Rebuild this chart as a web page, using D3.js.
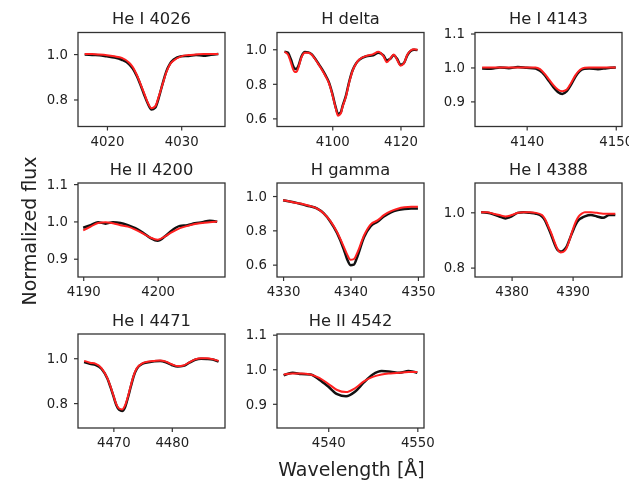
<!DOCTYPE html>
<html>
<head>
<meta charset="utf-8">
<script src="https://cdn.jsdelivr.net/npm/d3@7"></script>
<style>
  html, body { margin: 0; padding: 0; background: #fff; }
  svg { display: block; font-family: "DejaVu Sans", sans-serif; filter: blur(0.45px); }
</style>
</head>
<body>
<svg id="chart" width="629" height="489"></svg>
<script>
// ---------------- DATA ----------------
const titles = ["He I 4026", "H delta", "He I 4143", "He II 4200", "H gamma", "He I 4388", "He I 4471", "He II 4542"];

const xTicks = [[4020, 4030], [4100, 4120], [4140, 4150], [4190, 4200], [4330, 4340, 4350], [4380, 4390], [4470, 4480], [4540, 4550]];
const yTicks = [[0.8, 1.0], [0.6, 0.8, 1.0], [0.9, 1.0, 1.1], [0.9, 1.0, 1.1], [0.6, 0.8, 1.0], [0.8, 1.0], [0.8, 1.0], [0.9, 1.0, 1.1]];

const xLimits = [[4016.1, 4035.9], [4083.8, 4126.9], [4134.2, 4150.7], [4189.3, 4209.05], [4329.1, 4350.9], [4374.0, 4398.1], [4463.95, 4489.1], [4534.25, 4550.75]];
const yLimits = [[0.681, 1.095], [0.553, 1.097], [0.826, 1.103], [0.851, 1.103], [0.528, 1.076], [0.766, 1.106], [0.689, 1.108], [0.83, 1.102]];

// He I 4026
const wave1  = [4017, 4018, 4019, 4020, 4021, 4022, 4023, 4023.5, 4024, 4024.5, 4025, 4025.5, 4026, 4026.5, 4027, 4027.5, 4028, 4028.5, 4029, 4030, 4031, 4032, 4033, 4034, 4035];
const obs1   = [0.998, 0.996, 0.995, 0.99, 0.985, 0.975, 0.955, 0.935, 0.905, 0.866, 0.822, 0.782, 0.756, 0.764, 0.81, 0.87, 0.924, 0.958, 0.976, 0.99, 0.992, 0.996, 0.993, 0.997, 1.0];
const model1 = [1.0, 1.0, 0.998, 0.995, 0.99, 0.983, 0.962, 0.942, 0.91, 0.87, 0.828, 0.786, 0.761, 0.77, 0.815, 0.868, 0.92, 0.955, 0.972, 0.99, 0.996, 0.998, 1.0, 1.0, 1.0];

// H delta
const wave2  = [4086, 4087, 4087.5, 4088, 4088.5, 4089, 4089.5, 4090, 4091, 4092, 4093, 4094, 4095, 4096, 4097, 4098, 4099, 4100, 4101, 4101.7, 4102.5, 4103, 4104, 4105, 4106, 4107, 4108, 4110, 4112, 4113.5, 4115, 4116, 4117, 4118, 4119, 4120, 4121, 4122, 4123, 4124, 4125];
const obs2   = [0.985, 0.98, 0.96, 0.935, 0.905, 0.888, 0.885, 0.9, 0.96, 0.984, 0.982, 0.97, 0.945, 0.915, 0.885, 0.85, 0.81, 0.745, 0.665, 0.625, 0.635, 0.67, 0.73, 0.815, 0.88, 0.918, 0.94, 0.96, 0.965, 0.98, 0.965, 0.935, 0.945, 0.965, 0.945, 0.91, 0.92, 0.965, 0.99, 0.997, 0.995];
const model2 = [0.985, 0.97, 0.945, 0.915, 0.885, 0.868, 0.868, 0.89, 0.955, 0.98, 0.98, 0.968, 0.942, 0.912, 0.88, 0.845, 0.805, 0.74, 0.66, 0.615, 0.628, 0.665, 0.725, 0.81, 0.878, 0.918, 0.942, 0.962, 0.972, 0.985, 0.96, 0.925, 0.945, 0.97, 0.94, 0.905, 0.918, 0.968, 0.993, 1.0, 0.997];

// He I 4143
const wave3  = [4135, 4136, 4137, 4138, 4139, 4140, 4141, 4141.5, 4142, 4142.5, 4143, 4143.5, 4144, 4144.5, 4145, 4145.5, 4146, 4146.5, 4147, 4148, 4149, 4150];
const obs3   = [0.997, 0.996, 1.0, 0.998, 1.001, 0.999, 0.997, 0.99, 0.978, 0.96, 0.942, 0.928, 0.922, 0.93, 0.95, 0.974, 0.99, 0.996, 0.997, 0.995, 0.998, 1.0];
const model3 = [1.0, 1.0, 1.0, 1.0, 1.0, 1.0, 1.0, 0.995, 0.982, 0.965, 0.948, 0.935, 0.93, 0.935, 0.955, 0.978, 0.993, 0.999, 1.0, 1.0, 1.0, 1.0];

// He II 4200
const wave4  = [4190, 4191, 4192, 4193, 4194, 4195, 4196, 4197, 4198, 4199, 4200, 4201, 4202, 4203, 4204, 4205, 4206, 4207, 4208];
const obs4   = [0.983, 0.99, 0.998, 0.994, 0.998, 0.996, 0.99, 0.982, 0.97, 0.956, 0.948, 0.96, 0.977, 0.988, 0.99, 0.995, 0.998, 1.002, 0.999];
const model4 = [0.976, 0.986, 0.996, 0.998, 0.995, 0.99, 0.986, 0.978, 0.968, 0.957, 0.951, 0.96, 0.972, 0.982, 0.988, 0.993, 0.996, 0.998, 1.0];

// H gamma
const wave5  = [4330, 4331, 4332, 4333, 4334, 4335, 4336, 4337, 4338, 4339, 4339.5, 4340, 4340.5, 4341, 4342, 4343, 4344, 4345, 4346, 4347, 4348, 4349, 4350];
const obs5   = [0.975, 0.968, 0.96, 0.95, 0.94, 0.928, 0.9, 0.852, 0.785, 0.69, 0.632, 0.597, 0.6, 0.645, 0.76, 0.825, 0.85, 0.882, 0.905, 0.918, 0.925, 0.928, 0.928];
const model5 = [0.976, 0.968, 0.96, 0.952, 0.942, 0.928, 0.9, 0.855, 0.79, 0.705, 0.66, 0.628, 0.632, 0.668, 0.77, 0.835, 0.858, 0.89, 0.912, 0.926, 0.934, 0.937, 0.937];

// He I 4388
const wave6  = [4375, 4376, 4377, 4378, 4379, 4380, 4381, 4382, 4383, 4384, 4385, 4385.5, 4386, 4386.5, 4387, 4387.5, 4388, 4388.5, 4389, 4389.5, 4390, 4390.5, 4391, 4391.5, 4392, 4393, 4394, 4395, 4396, 4397];
const obs6   = [1.0, 0.998, 0.993, 0.985, 0.978, 0.985, 0.998, 1.0, 0.998, 0.995, 0.985, 0.97, 0.945, 0.918, 0.888, 0.865, 0.858, 0.862, 0.875, 0.902, 0.93, 0.955, 0.972, 0.98, 0.985, 0.99, 0.985, 0.98, 0.99, 0.99];
const model6 = [1.0, 1.0, 0.995, 0.99, 0.985, 0.99, 0.998, 1.0, 1.0, 0.998, 0.99, 0.975, 0.95, 0.925, 0.895, 0.868, 0.855, 0.857, 0.87, 0.9, 0.935, 0.965, 0.985, 0.995, 1.0, 1.0, 0.998, 0.995, 0.995, 0.995];

// He I 4471
const wave7  = [4465, 4466, 4467, 4468, 4469, 4469.5, 4470, 4470.5, 4471, 4471.5, 4472, 4472.5, 4473, 4473.5, 4474, 4475, 4476, 4477, 4478, 4479, 4480, 4481, 4482, 4483, 4484, 4485, 4486, 4487, 4488];
const obs7   = [0.983, 0.975, 0.97, 0.952, 0.908, 0.872, 0.832, 0.792, 0.77, 0.765, 0.782, 0.825, 0.875, 0.922, 0.952, 0.976, 0.982, 0.986, 0.988, 0.982, 0.97, 0.963, 0.966, 0.98, 0.993, 0.998, 0.997, 0.994, 0.985];
const model7 = [0.988, 0.98, 0.975, 0.955, 0.91, 0.875, 0.835, 0.795, 0.775, 0.772, 0.79, 0.83, 0.88, 0.925, 0.955, 0.978, 0.985, 0.988, 0.99, 0.985, 0.973, 0.965, 0.968, 0.982, 0.995, 1.0, 1.0, 0.996, 0.988];

// He II 4542
const wave8  = [4535, 4536, 4537, 4538, 4539, 4540, 4541, 4542, 4543, 4544, 4545, 4546, 4547, 4548, 4549, 4550];
const obs8   = [0.982, 0.99, 0.986, 0.985, 0.97, 0.95, 0.928, 0.922, 0.935, 0.962, 0.985, 0.995, 0.993, 0.99, 0.995, 0.99];
const model8 = [0.985, 0.988, 0.988, 0.985, 0.975, 0.958, 0.94, 0.934, 0.945, 0.965, 0.978, 0.985, 0.988, 0.99, 0.992, 0.992];

const waves  = [wave1, wave2, wave3, wave4, wave5, wave6, wave7, wave8];
const observed = [obs1, obs2, obs3, obs4, obs5, obs6, obs7, obs8];
const models = [model1, model2, model3, model4, model5, model6, model7, model8];

// ---------------- LAYOUT ----------------
const colLeft = [78, 277, 475];
const rowTop = [32.5, 183, 334];
const panelW = 147;
const panelH = 94;

const svg = d3.select("#chart");

titles.forEach((title, i) => {
  const col = i % 3, row = Math.floor(i / 3);
  const g = svg.append("g").attr("transform", `translate(${colLeft[col]},${rowTop[row]})`);

  const x = d3.scaleLinear().domain(xLimits[i]).range([0, panelW]);
  const y = d3.scaleLinear().domain(yLimits[i]).range([panelH, 0]);

  const clipId = "clip" + i;
  g.append("clipPath").attr("id", clipId)
    .append("rect").attr("width", panelW).attr("height", panelH);

  const line = d3.line()
    .x(d => x(d[0])).y(d => y(d[1]))
    .curve(d3.curveMonotoneX);

  const obsPts = waves[i].map((w, k) => [w, observed[i][k]]);
  const modPts = waves[i].map((w, k) => [w, models[i][k]]);

  const plot = g.append("g").attr("clip-path", `url(#${clipId})`);
  plot.append("path").datum(obsPts)
    .attr("d", line).attr("fill", "none")
    .attr("stroke", "#111").attr("stroke-width", 2.5).attr("stroke-linejoin", "round");
  plot.append("path").datum(modPts)
    .attr("d", line).attr("fill", "none")
    .attr("stroke", "#ff2020").attr("stroke-width", 2.0).attr("stroke-linejoin", "round");

  // axes
  const xAxis = d3.axisBottom(x).tickValues(xTicks[i]).tickFormat(d3.format("d"))
    .tickSizeInner(4).tickSizeOuter(0).tickPadding(6);
  const yAxis = d3.axisLeft(y).tickValues(yTicks[i]).tickFormat(d3.format(".1f"))
    .tickSizeInner(4).tickSizeOuter(0).tickPadding(6);

  const gx = g.append("g").attr("transform", `translate(0,${panelH})`).call(xAxis);
  const gy = g.append("g").call(yAxis);
  [gx, gy].forEach(a => {
    a.select(".domain").remove();
    a.selectAll(".tick line").attr("stroke", "#333").attr("stroke-width", 1.2);
    a.selectAll(".tick text").attr("fill", "#222")
      .style("font-family", "DejaVu Sans, sans-serif").style("font-size", "13.3px");
  });

  // frame
  g.append("rect").attr("width", panelW).attr("height", panelH)
    .attr("fill", "none").attr("stroke", "#333").attr("stroke-width", 1.3);

  // title
  g.append("text").attr("x", panelW / 2).attr("y", -8.5)
    .attr("text-anchor", "middle").attr("fill", "#222")
    .style("font-size", "16.3px").text(title);
});

// shared labels
svg.append("text").attr("x", 351.5).attr("y", 476)
  .attr("text-anchor", "middle").attr("fill", "#222")
  .style("font-size", "19px").text("Wavelength [Å]");

svg.append("text").attr("transform", "translate(35.5,231) rotate(-90)")
  .attr("text-anchor", "middle").attr("fill", "#222")
  .style("font-size", "19px").text("Normalized flux");
</script>
</body>
</html>
